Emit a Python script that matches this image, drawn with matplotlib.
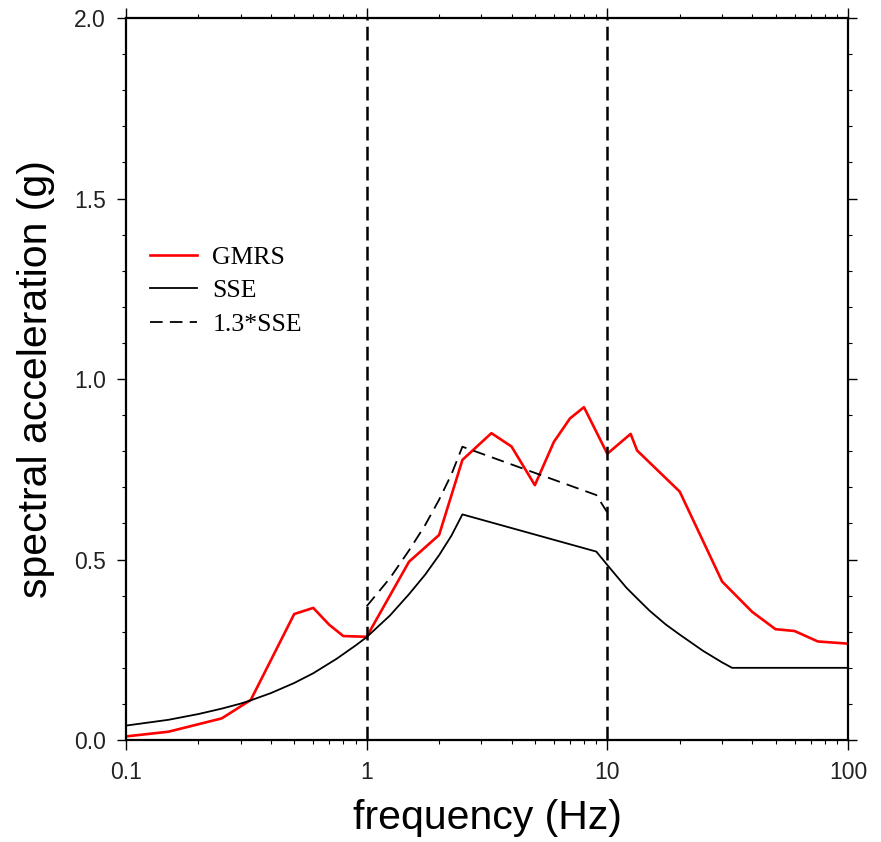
import numpy as np
import matplotlib
matplotlib.use('Agg')
import matplotlib.pyplot as plt
from matplotlib.ticker import MultipleLocator, FixedLocator, LogLocator, NullFormatter

# GMRS
gmrs_f = [0.1, 0.15, 0.25, 0.33, 0.5, 0.6, 0.7, 0.8, 1.0, 1.5, 2.0, 2.5, 3.3, 4.0,
          5.0, 6.0, 7.0, 8.0, 10.0, 12.5, 13.3, 20.0, 30.0, 40.0, 50.0, 60.0, 75.0, 100.0]
gmrs_sa = [0.010, 0.023, 0.060, 0.111, 0.349, 0.366, 0.319, 0.288, 0.286, 0.494, 0.568,
           0.776, 0.850, 0.813, 0.706, 0.826, 0.891, 0.922, 0.793, 0.848, 0.802, 0.688,
           0.439, 0.355, 0.307, 0.302, 0.273, 0.267]

# SSE design spectrum
sse_f = [0.1, 0.15, 0.2, 0.25, 0.3, 0.33, 0.4, 0.5, 0.6, 0.75, 0.9, 1.0, 1.25, 1.5, 1.75,
         2.0, 2.25, 2.5, 9.0, 10.0, 11.0, 12.0, 13.5, 15.0, 17.5, 20.0, 25.0, 30.0, 33.0, 100.0]
sse_sa = [0.040, 0.056, 0.072, 0.087, 0.101, 0.110, 0.130, 0.158, 0.185, 0.225, 0.262,
          0.285, 0.345, 0.404, 0.458, 0.512, 0.566, 0.625, 0.522, 0.485, 0.452, 0.422,
          0.388, 0.358, 0.320, 0.292, 0.247, 0.215, 0.200, 0.200]

scale = 1.3
band_lo, band_hi = 1.0, 10.0

sse_f = np.array(sse_f)
sse_sa = np.array(sse_sa)
in_band = (sse_f >= band_lo) & (sse_f <= band_hi)

fig = plt.figure(figsize=(8.81, 8.42), dpi=100)
ax = fig.add_axes([0.143, 0.1211, 0.8195, 0.8575])

ax.plot(gmrs_f, gmrs_sa, color='red', lw=1.9, label='GMRS')
ax.plot(sse_f, sse_sa, color='black', lw=1.3, label='SSE')
ax.plot(sse_f[in_band], scale * sse_sa[in_band], color='black', lw=1.3,
        linestyle=(0, (7, 4)), label='1.3*SSE')
for fv in (band_lo, band_hi):
    ax.axvline(fv, color='black', lw=1.8, linestyle=(0, (5.5, 2.5)))

ax.set_xscale('log')
ax.set_xlim(0.1, 100)
ax.set_ylim(0, 2.0)

ax.xaxis.set_major_locator(FixedLocator([0.1, 1, 10, 100]))
ax.set_xticklabels(['0.1', '1', '10', '100'])
ax.xaxis.set_minor_locator(LogLocator(base=10, subs=np.arange(2, 10)))
ax.xaxis.set_minor_formatter(NullFormatter())
ax.yaxis.set_major_locator(MultipleLocator(0.5))
ax.yaxis.set_minor_locator(MultipleLocator(0.1))
ax.yaxis.set_major_formatter(plt.FuncFormatter(lambda v, p: f'{v:.1f}'))

for s in ax.spines.values():
    s.set_linewidth(1.6)

ax.tick_params(which='both', direction='out', top=True, right=True)
ax.tick_params(axis='both', which='major', labelsize=16.5, pad=8, length=6.5, width=1.0)
ax.tick_params(axis='both', which='minor', length=3, width=0.8)
ax.tick_params(axis='x', which='major', length=7)
ax.tick_params(axis='y', which='both', right=True)
for tk in ax.yaxis.get_major_ticks() + ax.yaxis.get_minor_ticks():
    tk.tick2line.set_color('#888888')
for t in ax.get_xticklabels() + ax.get_yticklabels():
    t.set_fontfamily('Liberation Sans')
    t.set_color('#222222')

ax.set_xlabel('frequency (Hz)', fontsize=29.5, family='Liberation Sans', labelpad=11)
ax.set_ylabel('spectral acceleration (g)', fontsize=29.5, family='Liberation Sans', labelpad=14)

leg = ax.legend(loc='upper left', bbox_to_anchor=(0.033, 0.684), frameon=False,
                prop={'family': 'Liberation Serif', 'size': 18.5},
                handlelength=1.83, handletextpad=0.6, labelspacing=0.4,
                borderpad=0, borderaxespad=0)

fig.savefig('out.png', dpi=100)
